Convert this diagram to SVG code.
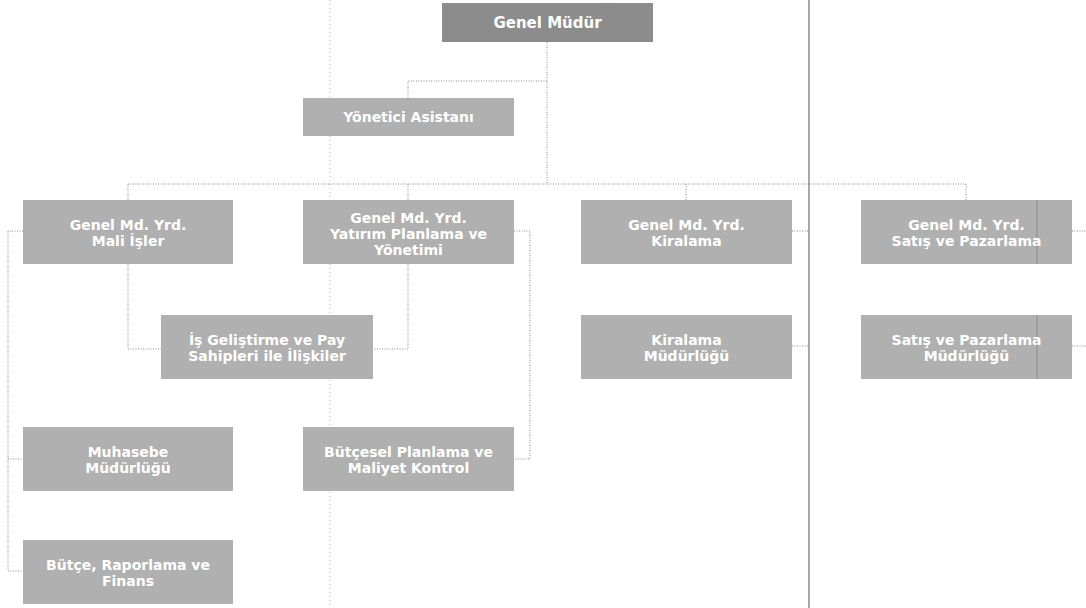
<svg xmlns="http://www.w3.org/2000/svg" width="1086" height="608" viewBox="0 0 1086 608">
<style>
.box{fill:#b0b0b0;}
.boss{fill:#8c8c8c;}
.t{font-family:"DejaVu Sans","Verdana",sans-serif;font-weight:bold;font-size:14px;fill:#ffffff;text-anchor:middle;}
.conn{fill:none;stroke:#8a8a8a;stroke-width:1;stroke-dasharray:1 1.5;}
.page{fill:none;stroke:#b8b8b8;stroke-width:1;stroke-dasharray:1 3;}
.rule{fill:none;stroke:#707070;stroke-width:1.2;}
.inner{fill:none;stroke:#8a8a8a;stroke-width:1;}
</style>
<rect width="1086" height="608" fill="#ffffff"/>
<g id="page-lines">
<line class="page" x1="330" y1="0" x2="330" y2="608"/>
<line class="rule" x1="809" y1="0" x2="809" y2="608"/>
</g>
<g id="connectors">
<path class="conn" d="M547 42 V184"/>
<path class="conn" d="M408 98 V81 H547"/>
<path class="conn" d="M128 184 H966"/>
<path class="conn" d="M128 184 V200 M408 184 V200 M686 184 V200 M966 184 V200"/>
<path class="conn" d="M128 264 V349 H161"/>
<path class="conn" d="M408 264 V349 H373"/>
<path class="conn" d="M514 231 H530 V459 H514"/>
<path class="conn" d="M23 231 H8 V571 H23 M8 459 H23"/>
<path class="conn" d="M792 231 H809 M792 346 H809"/>
<path class="conn" d="M1072 231 H1086 M1072 346 H1086"/>
</g>
<g id="genel-mudur">
<rect class="boss" x="442" y="3" width="211" height="39"/>
<line class="inner" x1="608" y1="3" x2="608" y2="42"/>
<text class="t" style="font-size:15px" x="547.5" y="28">Genel Müdür</text>
</g>
<g id="yonetici-asistani">
<rect class="box" x="303" y="98" width="211" height="38"/>
<text class="t" x="408.5" y="122">Yönetici Asistanı</text>
</g>
<g id="gmy-mali-isler">
<rect class="box" x="23" y="200" width="210" height="64"/>
<text class="t" x="128" y="230">Genel Md. Yrd.</text>
<text class="t" x="128" y="246">Mali İşler</text>
</g>
<g id="gmy-yatirim">
<rect class="box" x="303" y="200" width="211" height="64"/>
<text class="t" x="408.5" y="223">Genel Md. Yrd.</text>
<text class="t" x="408.5" y="239">Yatırım Planlama ve</text>
<text class="t" x="408.5" y="255">Yönetimi</text>
</g>
<g id="gmy-kiralama">
<rect class="box" x="581" y="200" width="211" height="64"/>
<text class="t" x="686.5" y="230">Genel Md. Yrd.</text>
<text class="t" x="686.5" y="246">Kiralama</text>
</g>
<g id="gmy-satis">
<rect class="box" x="861" y="200" width="211" height="64"/>
<line class="inner" x1="1037" y1="200" x2="1037" y2="264"/>
<text class="t" x="966.5" y="230">Genel Md. Yrd.</text>
<text class="t" x="966.5" y="246">Satış ve Pazarlama</text>
</g>
<g id="is-gelistirme">
<rect class="box" x="161" y="315" width="212" height="64"/>
<text class="t" x="267" y="345">İş Geliştirme ve Pay</text>
<text class="t" x="267" y="361">Sahipleri ile İlişkiler</text>
</g>
<g id="kiralama-mudurlugu">
<rect class="box" x="581" y="315" width="211" height="64"/>
<text class="t" x="686.5" y="345">Kiralama</text>
<text class="t" x="686.5" y="361">Müdürlüğü</text>
</g>
<g id="satis-mudurlugu">
<rect class="box" x="861" y="315" width="211" height="64"/>
<line class="inner" x1="1037" y1="315" x2="1037" y2="379"/>
<text class="t" x="966.5" y="345">Satış ve Pazarlama</text>
<text class="t" x="966.5" y="361">Müdürlüğü</text>
</g>
<g id="muhasebe">
<rect class="box" x="23" y="427" width="210" height="64"/>
<text class="t" x="128" y="457">Muhasebe</text>
<text class="t" x="128" y="473">Müdürlüğü</text>
</g>
<g id="butcesel-planlama">
<rect class="box" x="303" y="427" width="211" height="64"/>
<text class="t" x="408.5" y="457">Bütçesel Planlama ve</text>
<text class="t" x="408.5" y="473">Maliyet Kontrol</text>
</g>
<g id="butce-raporlama">
<rect class="box" x="23" y="540" width="210" height="64"/>
<text class="t" x="128" y="570">Bütçe, Raporlama ve</text>
<text class="t" x="128" y="586">Finans</text>
</g>
</svg>
